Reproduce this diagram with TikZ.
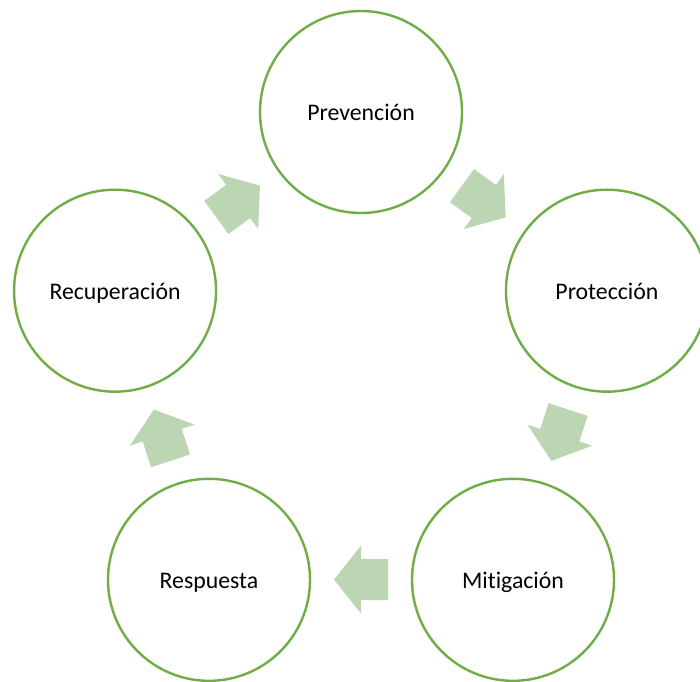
\documentclass[tikz,border=0pt]{standalone}
\usepackage{fontspec}
\setmainfont{Carlito}[Ligatures=NoCommon]
\definecolor{ringgreen}{RGB}{112,173,71}
\definecolor{arrowgreen}{RGB}{188,214,180}
\tikzset{
  stage/.style={circle, draw=ringgreen, line width=2.4pt, fill=white, minimum size=202pt, inner sep=0pt, text height=20pt, text depth=3pt, font=\fontsize{23.8}{28}\selectfont},
  cyclearrow/.style={fill=arrowgreen, draw=none}
}
\begin{document}
\begin{tikzpicture}[x=1pt,y=1pt]
\useasboundingbox (-361,-310.4) rectangle (339,370.6);
\clip (-361,-310.4) rectangle (339,370.6);
\fill[white] (-361,-310.4) rectangle (339,370.6);
\node[stage] (prev) at (90:258.6) {Prevención};
\node[stage] (prot) at (18:258.6) {Protección};
\node[stage] (miti) at (-54:258.6) {Mitigación};
\node[stage] (resp) at (-126:258.6) {Respuesta};
\node[stage] (recu) at (162:258.6) {Recuperación};
\foreach \t in {54,-18,-90,-162,126}{
  \fill[cyclearrow, shift={(\t:209)}, rotate=\t-90]
    (-27,20.5) -- (0,20.5) -- (0,34) -- (27,0) -- (0,-34) -- (0,-20.5) -- (-27,-20.5) -- cycle;
}
\end{tikzpicture}
\end{document}
